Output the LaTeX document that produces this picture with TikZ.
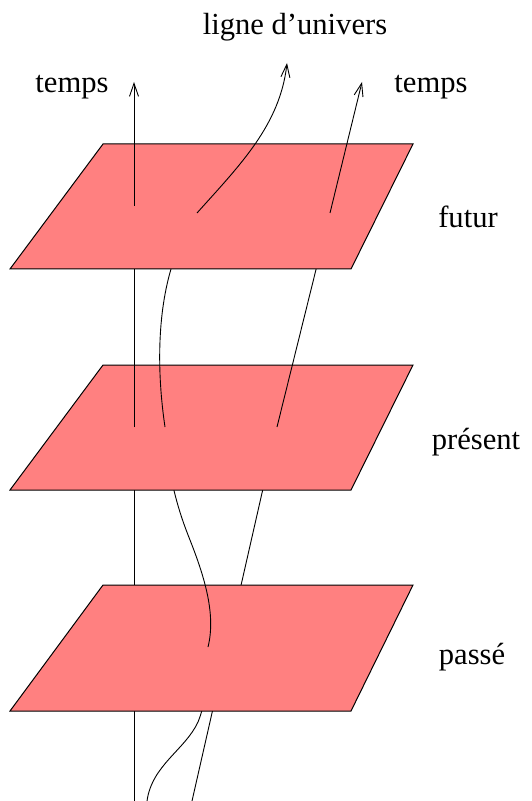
\documentclass[tikz,border=0pt]{standalone}
\usepackage{fontspec}
\setmainfont{Liberation Serif}
\usepackage{xcolor}
\usepackage{tikz}
\usetikzlibrary{arrows.meta}

\definecolor{planecol}{RGB}{255,128,128}

\begin{document}
\begin{tikzpicture}[
  x=0.5pt, y=-0.5pt,
  plane/.style={fill=planecol, draw=black, line width=0.5pt, line join=miter},
  wl/.style={draw=black, line width=0.45pt},
  wlarrow/.style={wl, -{Straight Barb[length=6.5pt, width=4.5pt, line width=0.45pt]}},
  lbl/.style={font=\fontsize{15.3}{18}\selectfont, inner sep=0pt}
]
\useasboundingbox (0,0) rectangle (531,801);
\coordinate (l1b) at (134,801);
\coordinate (l1c) at (134,427);
\coordinate (l1f) at (134,206);
\coordinate (l1t) at (134,82);
\coordinate (l2b) at (147,801);
\coordinate (l2a) at (208,647);
\coordinate (l2c) at (165,427);
\coordinate (l2f) at (197,213);
\coordinate (l2t) at (287,63);
\coordinate (l3b) at (192,801);
\coordinate (l3c) at (277,427);
\coordinate (l3f) at (330,213);
\coordinate (l3t) at (362,82);
\draw[wl] (l1b) -- (l1c);
\draw[wl] (l2b) .. controls (152,765) and (185,750) .. (198,722) .. controls (205,705) and (209,680) .. (l2a);
\draw[wl] (l3b) -- (l3c);
\draw[plane] (103,585) -- (413,585) -- (351,711) -- (10,711) -- cycle;
\draw[wl] (l2a) .. controls (216,615) and (205,578) .. (190,540) .. controls (180,515) and (168,480) .. (l2c);
\draw[plane] (103,365) -- (413,365) -- (351,490) -- (10,490) -- cycle;
\draw[wl] (l1c) -- (l1f);
\draw[wl] (l2c) .. controls (158,380) and (156,320) .. (171,269) .. controls (176,250) and (190,230) .. (l2f);
\draw[wl] (l3c) -- (l3f);
\draw[plane] (103,144) -- (413,144) -- (351,269) -- (10,269) -- cycle;
\draw[wlarrow] (l1f) -- (l1t);
\draw[wlarrow] (l2f) .. controls (240,165) and (280,125) .. (l2t);
\draw[wlarrow] (l3f) -- (l3t);
\node[lbl] (worldline) at (295,27)  {ligne d’univers};
\node[lbl] (timeL)     at (72,87)   {temps};
\node[lbl] (timeR)     at (431,87)  {temps};
\node[lbl] (futur)     at (468,217) {futur};
\node[lbl] (present)   at (476,442) {présent};
\node[lbl] (passe)     at (472,657) {passé};
\end{tikzpicture}
\end{document}
